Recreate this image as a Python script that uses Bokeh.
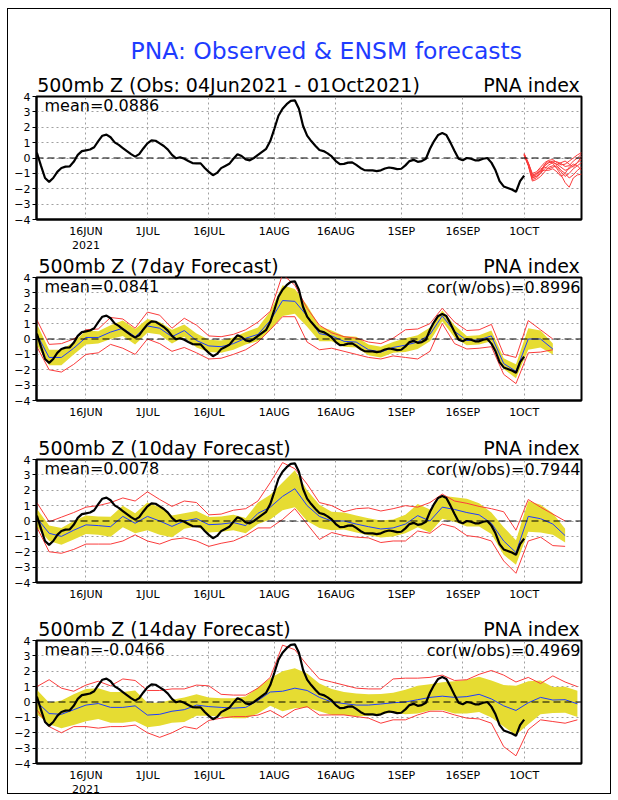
import pandas as pd
from bokeh.plotting import figure
from bokeh.layouts import column
from bokeh.models import Range1d, FixedTicker, Label, Span, LinearAxis, Title
from bokeh.embed import file_html
from bokeh.resources import INLINE

FONT = "DejaVu Sans"
RED = "#fa3c3c"
BLUE = "#1e3cff"
YEL = "#e6dc32"
GRID = "#a0a0a0"

# ---------------- data ----------------
obs = [0.35, -0.5, -1.3, -1.55, -1.3, -0.9, -0.65, -0.56, -0.55, -0.25,
       0.2, 0.45, 0.5, 0.55, 0.7, 1.1, 1.45, 1.52, 1.35, 1.02,
       0.85, 0.65, 0.45, 0.25, 0.09, 0.25, 0.62, 0.95, 1.15, 1.12,
       0.95, 0.78, 0.55, 0.2, -0.02, 0.05, -0.05, -0.2, -0.33, -0.35,
       -0.35, -0.65, -0.9, -1.12, -0.97, -0.66, -0.52, -0.38, -0.05, 0.25,
       0.13, -0.09, -0.15, 0.0, 0.2, 0.4, 0.6, 1.1, 1.9, 2.75,
       3.2, 3.5, 3.72, 3.75, 3.2, 2.1, 1.45, 1.1, 0.8, 0.52,
       0.45, 0.3, 0.1, -0.2, -0.4, -0.38, -0.3, -0.28, -0.45, -0.65,
       -0.79, -0.8, -0.81, -0.85, -0.8, -0.68, -0.62, -0.66, -0.72, -0.7,
       -0.48, -0.2, -0.12, -0.25, -0.2, -0.05, 0.6, 1.1, 1.5, 1.62,
       1.5, 1.0, 0.45, -0.05, -0.15, 0.0, -0.05, -0.15, -0.15, -0.05,
       0.0, -0.3, -0.8, -1.5, -1.85, -1.95, -2.05, -2.2, -1.5, -1.15]
obs_start = "2021-06-04"

members = [
    [0.25, -0.3, -1.0, -0.9, -0.6, -0.3, -0.15, -0.1, -0.3, -0.45, -0.4, -0.2, 0.0, 0.2, 0.35],
    [0.2, -0.4, -1.2, -1.1, -0.8, -0.5, -0.3, -0.2, -0.25, -0.35, -0.55, -0.5, -0.2, 0.0, 0.25],
    [0.2, -0.45, -1.4, -1.3, -1.0, -0.7, -0.45, -0.3, -0.4, -0.6, -0.8, -0.7, -0.5, -0.3, -0.1],
    [0.15, -0.5, -1.5, -1.4, -1.2, -0.9, -0.6, -0.5, -0.6, -0.9, -1.2, -1.0, -0.7, -0.5, -0.3],
    [0.3, -0.35, -1.1, -1.0, -0.7, -0.6, -0.7, -0.6, -0.5, -0.8, -1.0, -1.3, -1.1, -0.8, -0.6],
    [0.2, -0.4, -1.3, -1.2, -0.9, -0.4, -0.2, -0.35, -0.7, -1.1, -1.6, -1.9, -1.3, -1.1, -1.05],
    [0.2, -0.3, -1.2, -1.0, -0.85, -0.8, -0.8, -0.7, -0.9, -1.2, -1.0, -0.6, -0.4, -0.5, -0.8],
    [0.25, -0.45, -1.25, -1.2, -1.0, -0.5, -0.3, -0.25, -0.45, -0.3, -0.2, -0.4, -0.6, -0.3, 0.1],
]
members_start = "2021-10-01"

# forecasts sampled every 3 days from 4 Jun
fc7_mean = [0.3, -1.2, -1.2, -0.6, 0.1, 0.1, 0.45, 0.7, 0.15, 0.85, 0.7, 0.15, 0.55, -0.1, -0.45,
            -0.5, -0.3, 0.05, 0.3, 1.2, 2.5, 2.45, 1.5, 0.35, 0.2, -0.15, -0.2, -0.7, -0.85, -0.55,
            -0.4, -0.2, 0.3, 1.5, 0.5, -0.1, -0.05, 0.2, -1.6, -2.1, 0.0, 0.0, -0.65]
fc7_sd = [0.7, 0.5, 0.5, 0.4, 0.45, 0.4, 0.45, 0.5, 0.5, 0.45, 0.4, 0.45, 0.4, 0.45, 0.4,
          0.4, 0.4, 0.4, 0.45, 0.6, 1.0, 0.8, 0.7, 0.5, 0.35, 0.35, 0.35, 0.35, 0.35, 0.35,
          0.45, 0.45, 0.45, 0.35, 0.4, 0.3, 0.3, 0.35, 0.35, 0.45, 0.7, 0.55, 0.35]
fc7_max = [1.25, -0.35, -0.3, 0.0, 0.6, 0.65, 1.4, 1.3, 0.7, 1.75, 1.55, 0.7, 1.35, 0.9, 0.2,
           0.15, 0.3, 0.6, 1.1, 1.8, 4.2, 3.5, 2.0, 0.9, 0.4, 0.15, 0.05, -0.2, -0.3, 0.05,
           0.6, 0.65, 1.0, 2.0, 1.1, 0.55, 0.6, 0.95, -1.0, -1.2, 1.2, 0.6, 0.0]
fc7_min = [-0.5, -2.0, -2.15, -1.65, -1.0, -0.9, -0.35, -0.6, -1.0, 0.0, -0.3, -0.8, -0.55, -0.9, -1.3,
           -1.25, -1.0, -0.7, -0.2, 0.6, 1.45, 1.45, -0.2, -0.7, -0.6, -0.8, -1.0, -1.2, -1.3, -1.1,
           -1.2, -1.3, -0.8, 1.0, -0.3, -0.65, -0.6, -0.5, -2.3, -2.9, -0.9, -0.85, -0.7]

fc10_mean = [0.2, -0.8, -1.0, -0.6, -0.25, -0.3, -0.37, 0.3, -0.15, 0.3, 0.0, -0.35, 0.0, 0.15, -0.24,
             -0.2, -0.1, -0.3, 0.5, 0.9, 1.6, 2.1, 1.0, 0.3, 0.0, 0.0, -0.2, -0.37, -0.52, -0.45,
             -0.2, 0.35, 0.0, 0.9, 0.75, 0.55, 0.4, -0.15, -1.3, -2.05, 0.3, 0.15, -0.2, -0.95]
fc10_sd = [0.6, 0.5, 0.55, 0.6, 0.6, 0.6, 0.65, 0.7, 0.65, 0.9, 0.9, 0.7, 0.5, 0.5, 0.5,
           0.5, 0.5, 0.5, 0.7, 0.8, 0.9, 1.2, 1.0, 0.75, 0.6, 0.55, 0.55, 0.55, 0.55, 0.55,
           0.6, 0.75, 0.75, 0.75, 0.8, 0.9, 0.75, 0.7, 0.9, 0.8, 1.0, 0.9, 0.7, 0.45]
fc10_max = [1.2, -0.05, 0.25, 0.55, 0.9, 1.0, 1.2, 1.5, 1.3, 1.9, 1.4, 0.95, 1.3, 1.2, 0.4,
            0.45, 0.7, 0.8, 1.3, 2.5, 3.8, 3.4, 2.4, 1.2, 1.0, 0.6, 0.8, 0.85, 0.65, 0.8,
            1.0, 0.9, 1.2, 1.75, 1.3, 1.15, 0.95, 0.8, 0.6, -0.6, 1.4, 0.9, 0.45, 0.0]
fc10_min = [-0.4, -2.0, -2.1, -1.85, -1.5, -1.5, -1.5, -1.3, -0.9, -1.3, -1.5, -1.2, -1.1, -1.3, -1.65,
            -1.45, -1.3, -0.95, -0.45, -0.45, 0.1, 0.8, -0.2, -1.2, -0.75, -0.95, -1.05, -1.1, -1.4, -1.3,
            -1.3, -0.65, -0.8, -0.2, -0.4, -0.95, -1.05, -1.3, -2.6, -3.4, -1.3, -1.05, -1.6, -1.65]

fc14_mean = [0.0, -0.75, -0.8, -0.5, -0.2, -0.1, -0.35, -0.35, -0.25, -0.85, -0.8, -0.6, -0.5, -0.2, -0.3,
             -0.35, -0.4, -0.35, 0.1, 0.65, 0.7, 0.9, 0.75, 0.3, 0.0, -0.1, -0.2, -0.2, -0.13, -0.05,
             0.0, 0.15, 0.3, 0.38, 0.3, 0.35, 0.5, 0.2, -0.25, -0.55, -0.05, 0.3, 0.13, 0.15, -0.12]
fc14_sd = [0.8, 0.7, 0.9, 1.0, 1.05, 1.0, 1.0, 1.0, 1.0, 0.8, 0.75, 0.75, 0.8, 0.7, 0.6,
           0.6, 0.65, 0.7, 0.85, 0.9, 1.3, 1.3, 1.1, 0.9, 0.85, 0.75, 0.75, 0.7, 0.65, 0.65,
           0.8, 0.9, 0.85, 0.9, 1.05, 1.1, 1.15, 1.2, 1.35, 1.6, 1.4, 1.1, 0.85, 0.85, 0.85]
fc14_max = [1.0, 1.45, 0.9, 0.7, 1.1, 1.35, 1.05, 1.5, 1.4, 0.75, 0.75, 0.85, 0.85, 1.1, 1.05,
            0.5, 0.45, 0.45, 0.9, 1.6, 3.7, 3.4, 2.4, 1.5, 1.3, 1.1, 0.9, 0.85, 0.85, 1.5,
            1.55, 1.55, 1.6, 1.75, 1.4, 1.45, 1.8, 2.05, 1.75, 1.3, 1.6, 1.2, 1.7, 1.3, 1.0]
fc14_min = [-0.5, -1.6, -2.0, -1.6, -1.6, -1.7, -1.6, -1.6, -1.5, -2.0, -2.3, -2.0, -1.6, -1.75, -1.2,
            -1.05, -0.95, -0.95, -0.85, -0.55, -1.0, -0.5, -0.3, -0.85, -0.84, -0.84, -0.95, -1.05, -1.38, -1.16,
            -1.16, -0.84, -0.6, -0.6, -0.84, -1.05, -1.1, -1.38, -2.9, -3.5, -1.8, -1.16, -1.27, -1.38, -1.16]
fc_start = "2021-06-04"

tick_dates = ["2021-06-16", "2021-07-01", "2021-07-16", "2021-08-01",
              "2021-08-16", "2021-09-01", "2021-09-16", "2021-10-01"]
tick_labels = ["16JUN", "1JUL", "16JUL", "1AUG", "16AUG", "1SEP", "16SEP", "1OCT"]
year_label = "2021"
y_ticks = [-4, -3, -2, -1, 0, 1, 2, 3, 4]

main_title = "PNA: Observed & ENSM forecasts"
panel_titles = ["500mb Z (Obs: 04Jun2021 - 01Oct2021)", "500mb Z (7day Forecast)",
                "500mb Z (10day Forecast)", "500mb Z (14day Forecast)"]
right_title = "PNA index"
mean_texts = ["mean=0.0886", "mean=0.0841", "mean=0.0078", "mean=-0.0466"]
cor_texts = [None, "cor(w/obs)=0.8996", "cor(w/obs)=0.7944", "cor(w/obs)=0.4969"]

# page-pixel centres of the header texts (layout only)
title_centres = [228, 158, 164, 164]
right_centre = 531


# ---------------- helpers ----------------
def ms(s):
    return int(pd.Timestamp(s).timestamp() * 1000)


X0 = ms("2021-06-03 22:00")
X1 = ms("2021-10-15 00:00")
tick_ms = [ms(t) for t in tick_dates]
FRAME_H = 123
FRAME_W = 545
FRAME_L = 36


def px_to_ms(px):
    return int(X0 + (px - FRAME_L) / FRAME_W * (X1 - X0))


def make_panel(height, top, bottom, idx, show_year):
    p = figure(width=618, height=height, x_axis_type="datetime",
               x_range=Range1d(X0, X1), y_range=Range1d(-4, 4),
               toolbar_location=None, output_backend="svg",
               title_location=None if idx else "above",
               min_border_left=FRAME_L, min_border_right=618 - FRAME_L - FRAME_W,
               min_border_top=top, min_border_bottom=bottom,
               background_fill_color="white", border_fill_color="white")
    xt = FixedTicker(ticks=tick_ms)
    yt = FixedTicker(ticks=y_ticks)
    p.xaxis.ticker = xt
    p.xgrid.ticker = xt
    p.yaxis.ticker = yt
    p.ygrid.ticker = yt
    p.xaxis.major_label_overrides = {t: l for t, l in zip(tick_ms, tick_labels)}
    for ax in (p.xaxis, p.yaxis):
        ax.axis_line_width = 2
        ax.axis_line_color = "black"
        ax.minor_tick_line_color = None
        ax.minor_tick_out = 0
        ax.minor_tick_in = 0
        ax.major_label_text_font = FONT
        ax.major_label_text_font_size = "11px"
        ax.major_label_text_color = "black"
    p.xaxis.major_tick_line_color = None
    p.xaxis.major_tick_out = 0
    p.xaxis.major_tick_in = 0
    p.xaxis.major_label_standoff = 5
    p.yaxis.major_tick_in = 0
    p.yaxis.major_tick_out = 4
    p.yaxis.major_tick_line_color = "black"
    p.yaxis.major_label_standoff = 2
    for g in (p.xgrid, p.ygrid):
        g.grid_line_color = GRID
        g.grid_line_dash = "2 3"
        g.grid_line_width = 1
    p.outline_line_color = "black"
    p.outline_line_width = 2
    p.outline_line_alpha = 1.0

    # header line: panel title (left) and "PNA index" (right) as a top axis
    lt, rt = px_to_ms(title_centres[idx]), px_to_ms(right_centre)
    head = LinearAxis(ticker=FixedTicker(ticks=[lt, rt]),
                      major_label_overrides={lt: panel_titles[idx], rt: right_title},
                      axis_line_color=None, major_tick_line_color=None,
                      minor_tick_line_color=None, major_tick_out=0, major_tick_in=0,
                      minor_tick_out=0, minor_tick_in=0, major_label_standoff=1,
                      major_label_text_font=FONT, major_label_text_font_size="19px",
                      major_label_text_color="black")
    p.add_layout(head, "above")

    if show_year:
        yr = ms(tick_dates[0])
        yax = LinearAxis(ticker=FixedTicker(ticks=[yr]),
                         major_label_overrides={yr: year_label},
                         axis_line_color=None, major_tick_line_color=None,
                         minor_tick_line_color=None, major_tick_out=0, major_tick_in=0,
                         minor_tick_out=0, minor_tick_in=0, major_label_standoff=0,
                         major_label_text_font=FONT, major_label_text_font_size="11px",
                         major_label_text_color="black")
        p.add_layout(yax, "below")

    p.add_layout(Label(x=8, y=FRAME_H - 9, x_units="screen", y_units="screen",
                       text=mean_texts[idx], text_font=FONT, text_font_size="16px",
                       text_align="left", text_baseline="middle", text_color="black"))
    if cor_texts[idx]:
        p.add_layout(Label(x=FRAME_W - 1, y=FRAME_H - 10, x_units="screen", y_units="screen",
                           text=cor_texts[idx], text_font=FONT, text_font_size="16px",
                           text_align="right", text_baseline="middle", text_color="black"))
    return p


def add_forecast(p, mean, sd, mx, mn):
    d = pd.date_range(fc_start, periods=len(mean), freq="3D")
    lo = [m - s for m, s in zip(mean, sd)]
    hi = [m + s for m, s in zip(mean, sd)]
    p.varea(x=d, y1=lo, y2=hi, fill_color=YEL, fill_alpha=1.0)
    p.line(d, mx, line_color=RED, line_width=1)
    p.line(d, mn, line_color=RED, line_width=1)
    p.line(d, mean, line_color=BLUE, line_width=1)


def add_obs(p):
    d = pd.date_range(obs_start, periods=len(obs), freq="D")
    p.add_layout(Span(location=0, dimension="width", line_color="black",
                      line_dash="7 4", line_width=1))
    p.line(d, obs, line_color="black", line_width=2.2)


# panel 1 (observations + ensemble members)
p1 = make_panel(251, 96, 32, 0, True)
p1.title = Title(text=main_title, align="left", offset=94, standoff=11,
                 text_font=FONT, text_font_size="23.5px", text_font_style="normal",
                 text_color=BLUE)
add_obs(p1)
md = pd.date_range(members_start, periods=15, freq="D")
p1.multi_line(xs=[list(md)] * len(members), ys=members, line_color=RED, line_width=1)

p2 = make_panel(182, 26, 33, 1, False)
add_forecast(p2, fc7_mean, fc7_sd, fc7_max, fc7_min)
add_obs(p2)

p3 = make_panel(181, 26, 32, 2, False)
add_forecast(p3, fc10_mean, fc10_sd, fc10_max, fc10_min)
add_obs(p3)

p4 = make_panel(186, 26, 37, 3, True)
add_forecast(p4, fc14_mean, fc14_sd, fc14_max, fc14_min)
add_obs(p4)

border_css = (":host { position: relative; } "
              ":host::after { content: ''; position: absolute; left: 7px; top: 8px; "
              "width: 604px; height: 786px; box-sizing: border-box; "
              "border: 1px solid black; pointer-events: none; z-index: 100; }")
layout = column(p1, p2, p3, p4, spacing=0, stylesheets=[border_css])
open("out.html", "w").write(file_html(layout, INLINE))
